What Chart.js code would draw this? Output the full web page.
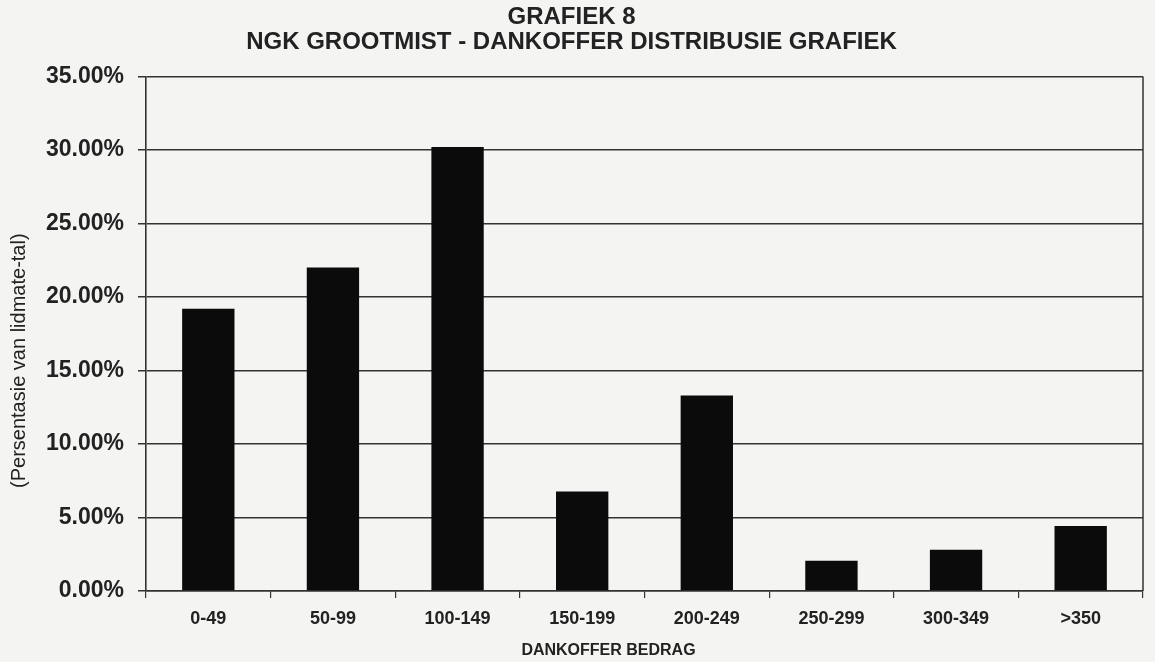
<!DOCTYPE html>
<html>
<head>
<meta charset="utf-8">
<script src="https://cdn.jsdelivr.net/npm/chart.js@4/dist/chart.umd.min.js"></script>
<style>
  html, body { margin: 0; padding: 0; background: #f4f4f3; }
  #wrap { width: 1155px; height: 662px; position: relative; }
</style>
</head>
<body>
<div id="wrap"><canvas id="c" width="1155" height="662"></canvas></div>
<script>
const titleLines = ["GRAFIEK 8", "NGK GROOTMIST - DANKOFFER DISTRIBUSIE GRAFIEK"];
const categories = ["0-49", "50-99", "100-149", "150-199", "200-249", "250-299", "300-349", ">350"];
const percentages = [19.2, 22.0, 30.2, 6.76, 13.3, 2.06, 2.8, 4.42];
const yTicks = [0, 5, 10, 15, 20, 25, 30, 35];
const xAxisTitle = "DANKOFFER BEDRAG";
const yAxisTitle = "(Persentasie van lidmate-tal)";

const FONT = "'Liberation Sans', Arial, sans-serif";
const INK = "#222";
const GRID = "#333";

const axisTitlesPlugin = {
  id: 'axisTitles',
  afterDraw(chart) {
    const ctx = chart.ctx;
    const a = chart.chartArea;
    ctx.save();
    ctx.fillStyle = INK;
    ctx.textAlign = 'center';
    ctx.textBaseline = 'middle';
    // y axis title
    ctx.save();
    ctx.translate(19, (a.top + a.bottom) / 2 + 27);
    ctx.rotate(-Math.PI / 2);
    ctx.font = "20px " + FONT;
    ctx.fillText(yAxisTitle, 0, 0);
    ctx.restore();
    // x axis title
    ctx.font = "bold 16px " + FONT;
    ctx.fillText(xAxisTitle, (a.left + a.right) / 2 - 36, a.bottom + 60);
    ctx.restore();
  }
};

new Chart(document.getElementById('c'), {
  type: 'bar',
  data: {
    labels: categories,
    datasets: [{
      data: percentages,
      backgroundColor: '#0b0b0b',
      borderWidth: 0,
      barPercentage: 0.42,
      categoryPercentage: 1.0
    }]
  },
  options: {
    responsive: false,
    animation: false,
    devicePixelRatio: 1,
    layout: { padding: { left: 0, right: 12, top: 0, bottom: 0 } },
    plugins: {
      legend: { display: false },
      tooltip: { enabled: false },
      title: {
        display: true,
        text: titleLines,
        color: INK,
        font: { family: FONT, size: 24, weight: 'bold', lineHeight: 1.05 },
        padding: { top: 5, bottom: 21 }
      }
    },
    scales: {
      x: {
        grid: {
          display: true,
          drawOnChartArea: false,
          drawTicks: true,
          tickLength: 7,
          color: GRID,
          lineWidth: 1.2,
          offset: true
        },
        border: { display: true, color: GRID, width: 1.6 },
        ticks: {
          color: INK,
          padding: 10,
          maxRotation: 0,
          autoSkip: false,
          font: { family: FONT, size: 18, weight: 'bold' }
        },
        afterFit(scale) { scale.height = 71; }
      },
      y: {
        min: 0,
        max: 35,
        afterBuildTicks(scale) { scale.ticks = yTicks.map(v => ({ value: v })); },
        grid: {
          color: GRID,
          lineWidth: 1.5,
          drawTicks: true,
          tickLength: 8
        },
        border: { display: true, color: GRID, width: 1.6 },
        ticks: {
          color: INK,
          padding: 14,
          font: { family: FONT, size: 23, weight: 'bold' },
          callback: v => Number(v).toFixed(2) + '%'
        },
        afterFit(scale) { scale.width = 146; }
      }
    }
  },
  plugins: [axisTitlesPlugin, {
    id: 'rightBorder',
    afterDatasetsDraw(chart) {
      const a = chart.chartArea, ctx = chart.ctx;
      ctx.save();
      ctx.strokeStyle = GRID;
      ctx.lineWidth = 1.5;
      ctx.beginPath();
      ctx.moveTo(a.right, a.top);
      ctx.lineTo(a.right, a.bottom);
      ctx.stroke();
      ctx.restore();
    }
  }]
});
</script>
</body>
</html>
